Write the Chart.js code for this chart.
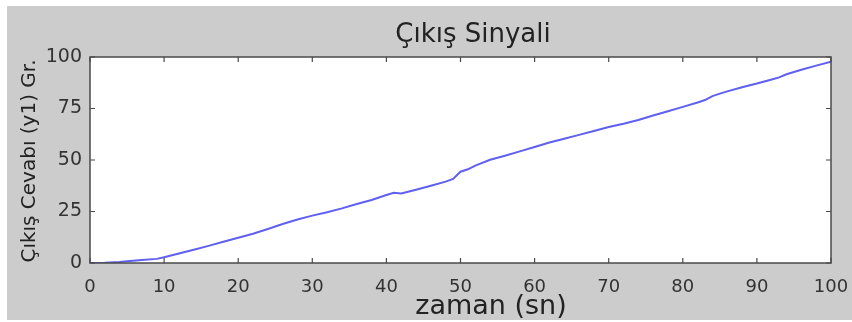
<!DOCTYPE html>
<html>
<head>
<meta charset="utf-8">
<script src="https://cdn.jsdelivr.net/npm/chart.js@4"></script>
<style>
html,body{margin:0;padding:0;background:#ffffff;}
#wrap{width:852px;height:322px;position:relative;}
</style>
</head>
<body>
<div id="wrap"><canvas id="c" width="852" height="322"></canvas></div>
<script>
const titleText = "Çıkış Sinyali";
const xTitle = "zaman (sn)";
const yTitle = "Çıkış Cevabı (y1) Gr.";
const xTicks = [0,10,20,30,40,50,60,70,80,90,100];
const yTicks = [0,25,50,75,100];
const times = [0,2,4,5,7,9,10,12,14,16,18,20,22,24,26,28,30,32,34,36,38,40,41,42,44,46,48,49,50,51,52,54,56,58,60,62,64,66,68,70,72,74,76,78,80,82,83,84,85,86,88,90,92,93,94,96,98,100];
const y1 = [0,0.1,0.5,0.9,1.5,2.0,2.8,4.6,6.4,8.3,10.3,12.3,14.2,16.5,18.9,21.1,23.0,24.6,26.5,28.6,30.6,33.0,34.1,33.8,35.6,37.5,39.5,40.8,44.3,45.5,47.3,50.1,52.1,54.2,56.3,58.5,60.3,62.2,64.1,66.0,67.6,69.4,71.6,73.7,75.8,77.9,79.1,81.0,82.2,83.3,85.3,87.1,89.1,90.1,91.6,93.8,95.8,97.7];

const FONT = "'DejaVu Sans', Verdana, sans-serif";

const frame = {
  id: 'frame',
  beforeDraw(chart) {
    const ctx = chart.ctx, a = chart.chartArea;
    ctx.save();
    ctx.fillStyle = '#cccccc';
    ctx.fillRect(7, 6, 845, 314);
    ctx.fillStyle = '#ffffff';
    ctx.fillRect(a.left, a.top, a.right - a.left, a.bottom - a.top);
    ctx.restore();
  },
  afterDatasetsDraw(chart) {
    const ctx = chart.ctx, a = chart.chartArea;
    const xs = chart.scales.x, ys = chart.scales.y;
    ctx.save();
    ctx.strokeStyle = '#4a4a4a';
    ctx.lineWidth = 1.5;
    ctx.strokeRect(a.left, a.top, a.right - a.left, a.bottom - a.top);
    ctx.lineWidth = 1.2;
    ctx.beginPath();
    const tl = 5;
    xTicks.forEach(v => {
      const px = xs.getPixelForValue(v);
      ctx.moveTo(px, a.bottom); ctx.lineTo(px, a.bottom - tl);
      ctx.moveTo(px, a.top); ctx.lineTo(px, a.top + tl);
    });
    yTicks.forEach(v => {
      const py = ys.getPixelForValue(v);
      ctx.moveTo(a.left, py); ctx.lineTo(a.left + tl, py);
      ctx.moveTo(a.right, py); ctx.lineTo(a.right - tl, py);
    });
    ctx.stroke();
    // texts
    ctx.fillStyle = '#222222';
    ctx.textAlign = 'center';
    ctx.textBaseline = 'alphabetic';
    ctx.font = "26px " + FONT;
    ctx.fillText(titleText, 473, 42);
    ctx.font = "27px " + FONT;
    ctx.fillText(xTitle, 491, 314);
    ctx.translate(35, 161);
    ctx.rotate(-Math.PI / 2);
    ctx.font = "20px " + FONT;
    ctx.fillText(yTitle, 0, 0);
    ctx.restore();
  }
};

new Chart(document.getElementById('c'), {
  type: 'line',
  data: {
    datasets: [{
      data: times.map((t, i) => ({x: t, y: y1[i]})),
      borderColor: '#5f5ff0',
      borderWidth: 2,
      pointRadius: 0,
      tension: 0,
      fill: false
    }]
  },
  options: {
    responsive: false,
    animation: false,
    layout: {padding: {left: 0, top: 57, right: 21, bottom: 0}},
    plugins: {legend: {display: false}, tooltip: {enabled: false}, title: {display: false}},
    scales: {
      x: {
        type: 'linear', min: 0, max: 100,
        grid: {display: false, drawTicks: false},
        border: {display: false},
        afterFit(s) { s.height = 59; s.paddingLeft = 0; s.paddingRight = 0; },
        afterBuildTicks(s) { s.ticks = xTicks.map(v => ({value: v})); },
        ticks: {font: {family: FONT, size: 18}, color: '#333333', padding: 14, maxRotation: 0, autoSkip: false}
      },
      y: {
        min: 0, max: 100,
        grid: {display: false, drawTicks: false},
        border: {display: false},
        afterFit(s) { s.width = 90; s.paddingTop = 0; s.paddingBottom = 0; },
        afterBuildTicks(s) { s.ticks = yTicks.map(v => ({value: v})); },
        ticks: {font: {family: FONT, size: 19}, color: '#333333', padding: 8}
      }
    }
  },
  plugins: [frame]
});
</script>
</body>
</html>
